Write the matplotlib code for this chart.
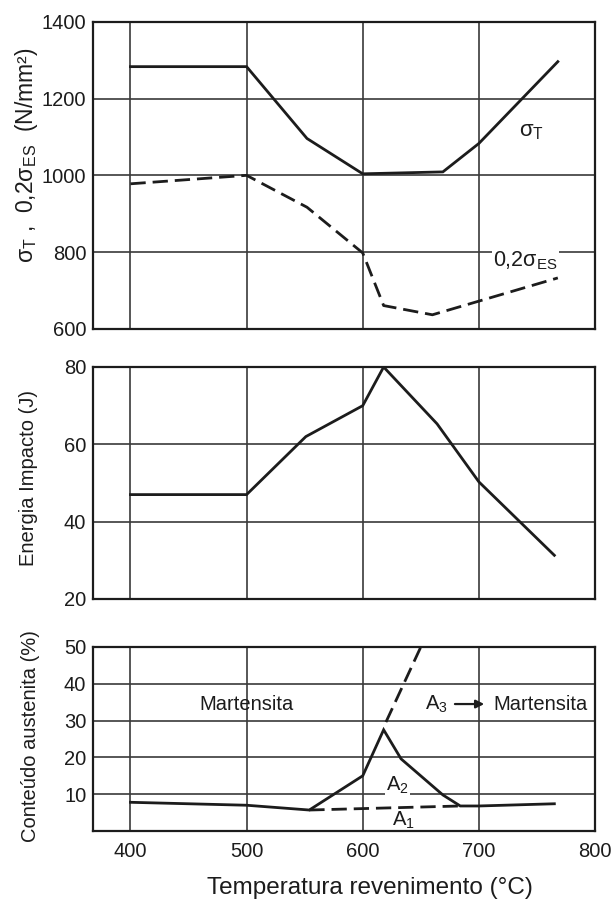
import matplotlib
matplotlib.use("Agg")
import matplotlib.pyplot as plt

# Tensile strength and 0.2 % proof stress vs tempering temperature
temp_tensile = [400, 500, 552, 600, 669, 700, 768]
tensile = [1283, 1283, 1096, 1004, 1009, 1083, 1296]
temp_proof = [400, 500, 552, 600, 618, 660, 768]
proof = [978, 1000, 917, 798, 661, 637, 733]

# Impact energy
temp_impact = [400, 500, 551, 600, 618, 664, 700, 765]
impact = [47, 47, 62, 70, 80, 65.3, 50.3, 31.3]

# Retained austenite content
temp_aust = [400, 500, 554, 600, 618, 633, 669, 684, 700, 765]
austenite = [7.8, 7.0, 5.7, 15, 27.5, 19.6, 9.8, 6.8, 6.8, 7.4]
temp_a1 = [554, 684]
aust_a1 = [5.7, 6.8]
temp_a3 = [620, 650]
aust_a3 = [29.6, 50]

x_ticks = [400, 500, 600, 700, 800]
y_ticks_strength = [600, 800, 1000, 1200, 1400]
y_ticks_impact = [20, 40, 60, 80]
y_ticks_aust = [10, 20, 30, 40, 50]

plt.rcParams['mathtext.fontset'] = 'custom'
plt.rcParams['mathtext.rm'] = 'Liberation Sans'
plt.rcParams['mathtext.it'] = 'Liberation Sans'

INK = '#1c1c1c'
GRID = '#3a3a3a'
TICK_FONT = ['Liberation Sans', 'DejaVu Sans']
LABEL_FONT = ['Liberation Sans', 'DejaVu Sans']

W, H = 613, 910
fig = plt.figure(figsize=(W / 100, H / 100), dpi=100)
fig.patch.set_facecolor('white')


def make_axes(top_px, bottom_px):
    left, right = 93.3, 595
    return fig.add_axes([left / W, 1 - bottom_px / H,
                         (right - left) / W, (bottom_px - top_px) / H])


def style(ax, yticks, ylim, show_x):
    ax.set_xlim(368, 800)
    ax.set_ylim(*ylim)
    ax.set_xticks(x_ticks)
    ax.set_yticks(yticks)
    ax.grid(True, color=GRID, linewidth=1.2)
    ax.set_axisbelow(True)
    for s in ax.spines.values():
        s.set_linewidth(1.6)
        s.set_color(INK)
    ax.tick_params(length=0, pad=5, colors=INK, labelsize=14.5)
    for lab in ax.get_xticklabels() + ax.get_yticklabels():
        lab.set_family(TICK_FONT)
    if not show_x:
        ax.tick_params(labelbottom=False)
    else:
        ax.tick_params(axis='x', pad=8)


line_kw = dict(color=INK, linewidth=2.0, solid_joinstyle='miter')
dash_kw = dict(color=INK, linewidth=2.0, linestyle=(0, (5.5, 2.5)))

# Panel 1: strength
ax1 = make_axes(21.7, 329)
style(ax1, y_ticks_strength, (600, 1400), False)
ax1.plot(temp_tensile, tensile, **line_kw)
ax1.plot(temp_proof, proof, **dash_kw)
ax1.text(745, 1113, 'σ$_\\mathrm{T}$', fontsize=16, family=LABEL_FONT,
         ha='center', va='center', color=INK)
ax1.text(740, 779, '0,2σ$_\\mathrm{ES}$', fontsize=15.5, family=LABEL_FONT,
         ha='center', va='center', color=INK,
         bbox=dict(facecolor='white', edgecolor='none', pad=1))

# Panel 2: impact energy
ax2 = make_axes(367, 599)
style(ax2, y_ticks_impact, (20, 80), False)
ax2.plot(temp_impact, impact, **line_kw)

# Panel 3: austenite
ax3 = make_axes(647, 831)
style(ax3, y_ticks_aust, (0, 50), True)
ax3.plot(temp_aust, austenite, **line_kw)
ax3.plot(temp_a1, aust_a1, **dash_kw)
ax3.plot(temp_a3, aust_a3, clip_on=True, **dash_kw)
ax3.text(500, 34.3, 'Martensita', fontsize=14.5, family=LABEL_FONT,
         ha='center', va='center', color=INK)
ax3.text(663, 34.5, 'A$_3$', fontsize=14.5, family=LABEL_FONT,
         ha='center', va='center', color=INK)
ax3.annotate('', xy=(707, 34.5), xytext=(677, 34.5),
             arrowprops=dict(arrowstyle='-|>', color=INK, lw=1.6,
                             mutation_scale=12))
ax3.text(753, 34.5, 'Martensita', fontsize=14.5, family=LABEL_FONT,
         ha='center', va='center', color=INK)
ax3.text(630, 12.4, 'A$_2$', fontsize=14.5, family=LABEL_FONT,
         ha='center', va='center', color=INK,
         bbox=dict(facecolor='white', edgecolor='none', pad=1))
ax3.text(635, 2.8, 'A$_1$', fontsize=14.5, family=LABEL_FONT,
         ha='center', va='center', color=INK)

# Axis titles
fig.text(26 / W, 1 - 155 / H,
         'σ$_\\mathrm{T}$ ,  0,2σ$_\\mathrm{ES}$  (N/mm²)',
         rotation=90, ha='center', va='center', fontsize=16.5,
         family=LABEL_FONT, color=INK)
fig.text(28 / W, 1 - 478 / H, 'Energia Impacto (J)', rotation=90,
         ha='center', va='center', fontsize=14.5, family=LABEL_FONT, color=INK)
fig.text(31 / W, 1 - 736 / H, 'Conteúdo austenita (%)', rotation=90,
         ha='center', va='center', fontsize=14.5, family=LABEL_FONT, color=INK)
fig.text(370 / W, 1 - 888 / H, 'Temperatura revenimento (°C)',
         ha='center', va='center', fontsize=17.5, family=LABEL_FONT, color=INK)

fig.savefig('out.png', dpi=100, facecolor='white')
